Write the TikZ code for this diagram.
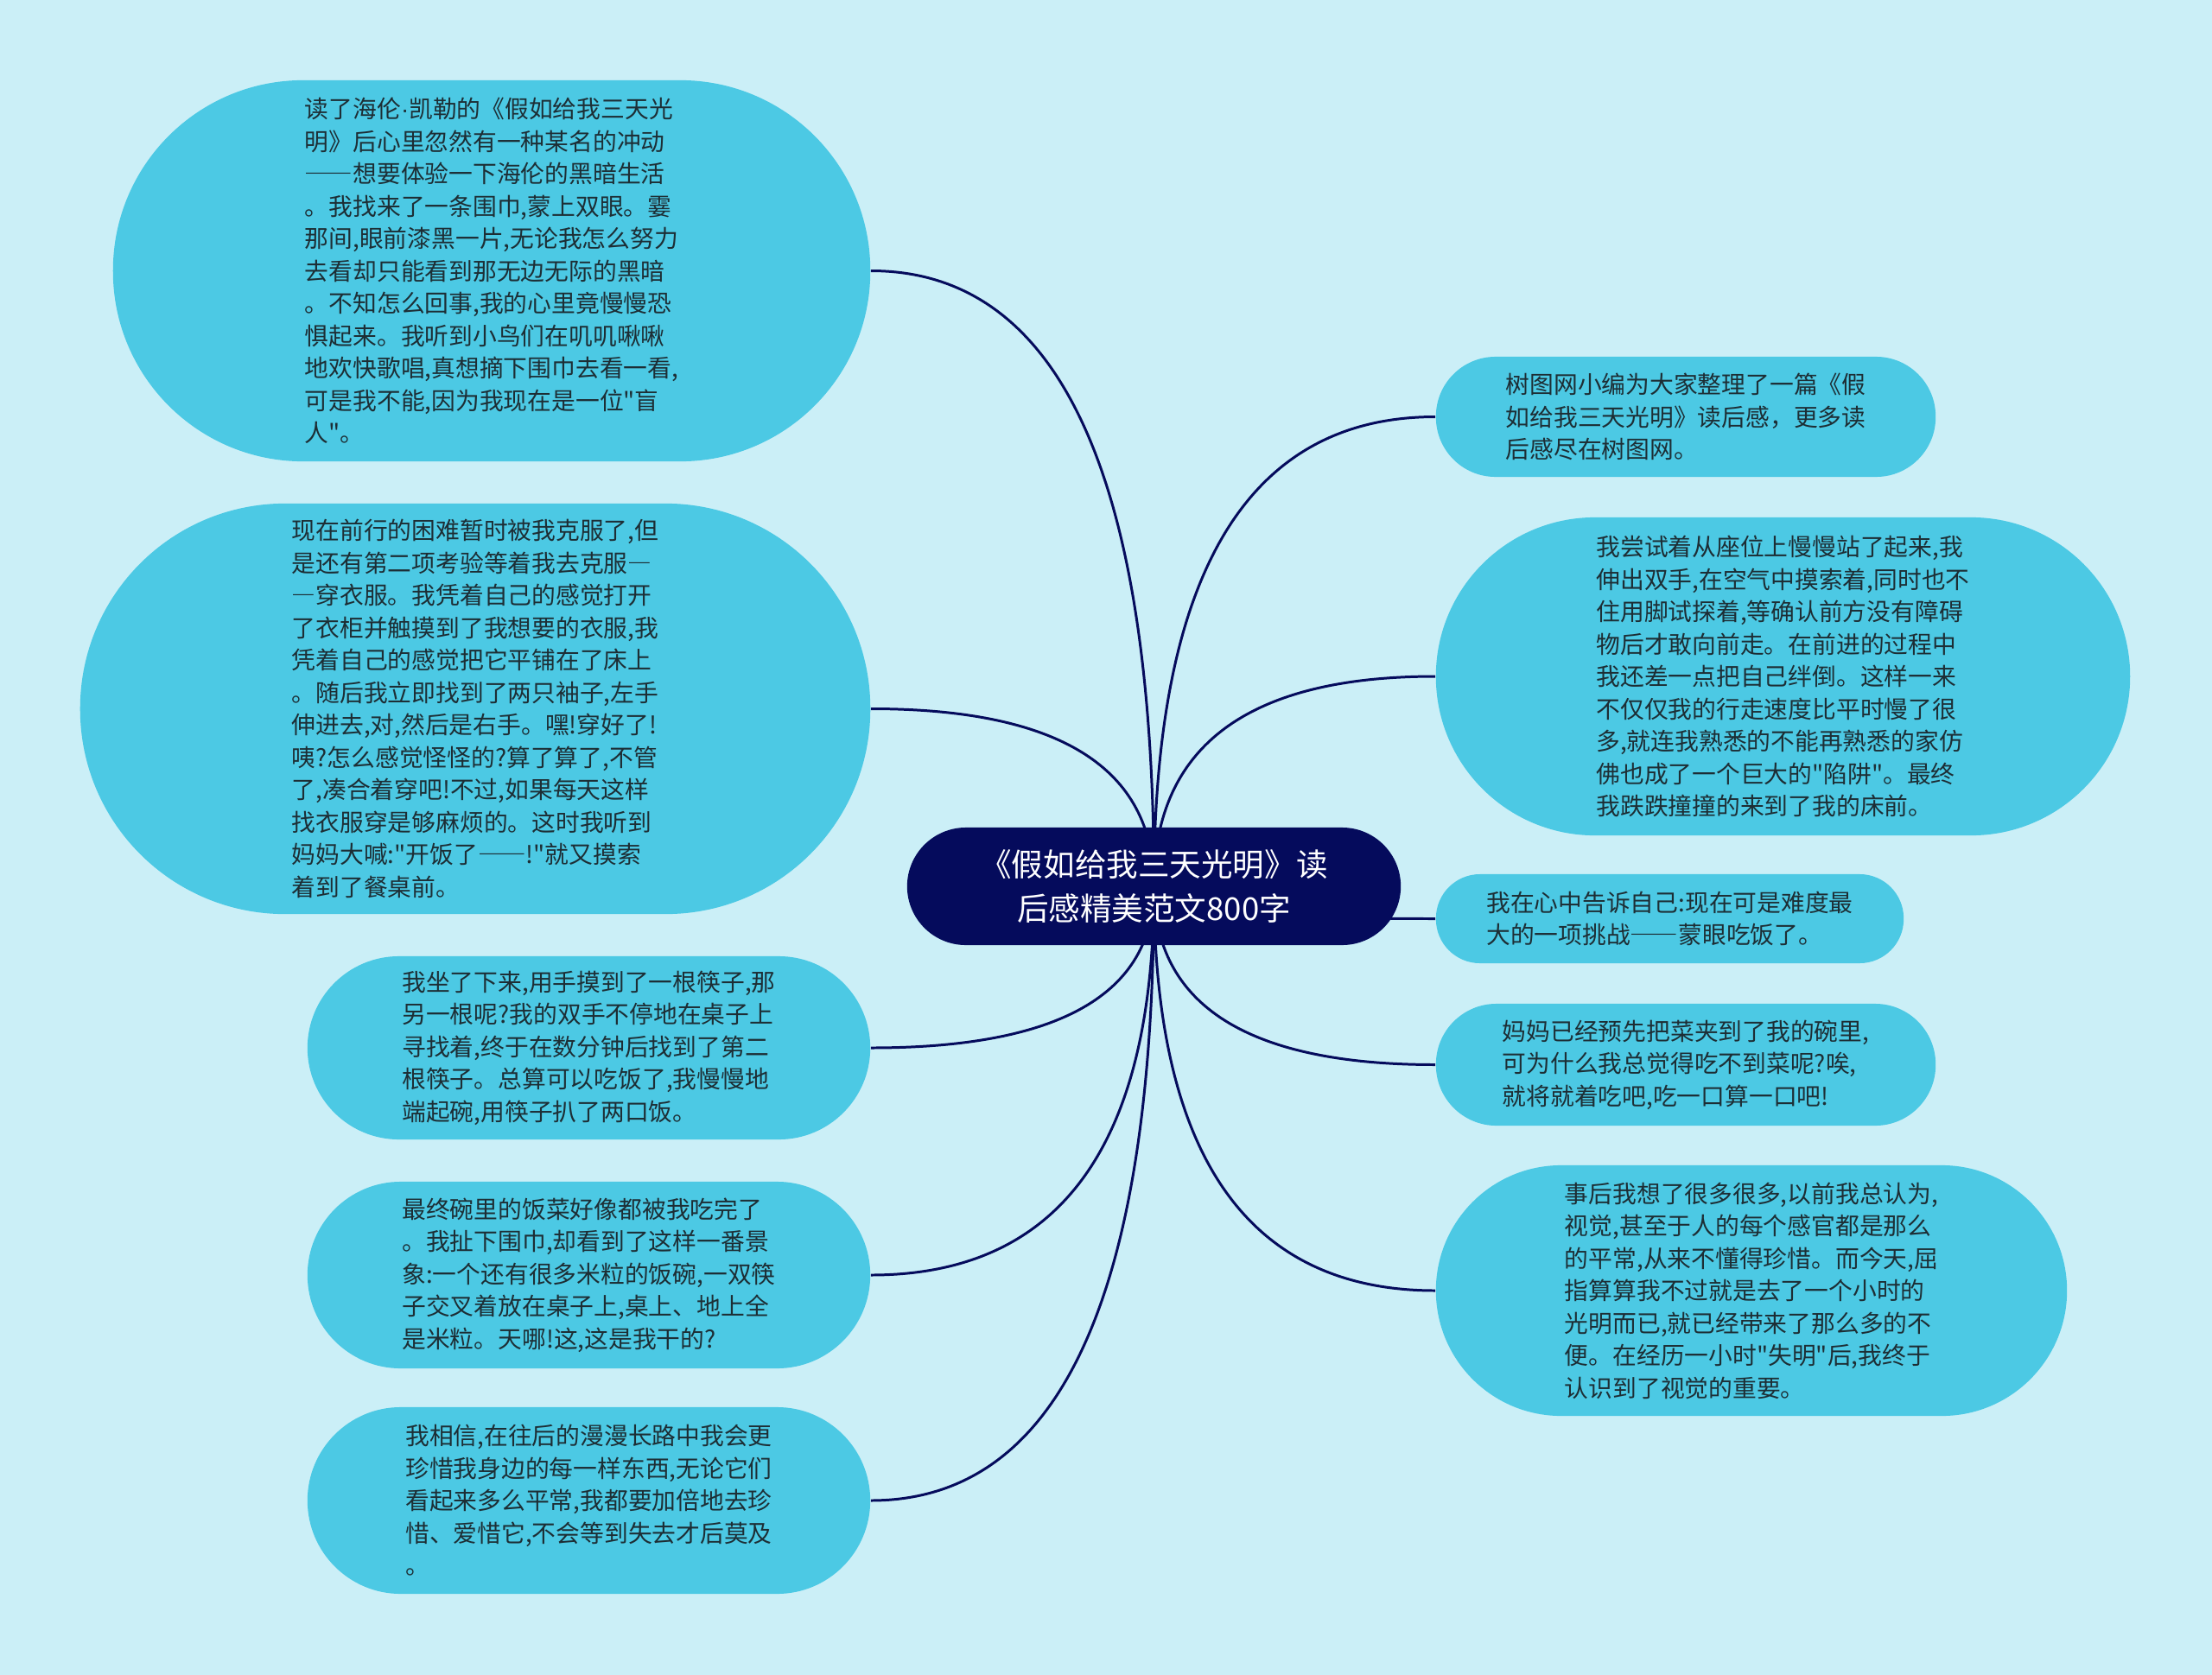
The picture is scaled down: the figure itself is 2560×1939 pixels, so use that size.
\documentclass[tikz,border=0pt]{standalone}
\usepackage{fontspec}
\newfontfamily\cjk{Noto Sans CJK SC}
\newfontfamily\latinf{Liberation Sans}
\newcommand\fw[1]{{\addfontfeature{RawFeature=+fwid}#1}}
\usetikzlibrary{calc}
\definecolor{bgc}{HTML}{CBEFF7}
\definecolor{boxc}{HTML}{4CC9E4}
\definecolor{navy}{HTML}{050B5C}
\definecolor{txtc}{HTML}{1D2E35}
\pgfdeclarelayer{backdrop}
\pgfdeclarelayer{lines}
\pgfsetlayers{backdrop,lines,main}
\tikzset{
  leaf/.style={fill=boxc, text=txtc, align=left, inner sep=0pt,
    font=\cjk\fontsize{7.9pt}{10.67pt}\selectfont},
  root/.style={fill=navy, text=white, align=center, inner sep=0pt,
    font=\cjk\fontsize{10.4pt}{14.4pt}\selectfont},
  link/.style={draw=navy, line width=0.85pt},
}
\newcommand\mmconn[2]{\draw[link] (#1) .. controls ($(#1)!0.667!(#1 |- #2)$) and ($(#2)!0.667!(#1 |- #2)$) .. (#2);}
\begin{document}
\begin{tikzpicture}[x=0.01cm,y=-0.01cm]
\begin{pgfonlayer}{backdrop}
\fill[bgc] (0,0) rectangle (2560,1939);
\end{pgfonlayer}
\useasboundingbox (0,0) rectangle (2560,1939);

\node[root, minimum width=5.71cm, minimum height=1.36cm, rounded corners=0.68cm] (c) at (1335.5,1026)
  {《假如给我三天光明》读\\后感精美范文800字};

\node[leaf, minimum width=8.76cm, minimum height=4.41cm, rounded corners=2.2cm] (n1) at (569,313.5)
  {读了海伦{\latinf ·}凯勒的《假如给我三天光\\明》后心里忽然有一种某名的冲动\\\fw{——}想要体验一下海伦的黑暗生活\\。我找来了一条围巾,蒙上双眼。霎\\那间,眼前漆黑一片,无论我怎么努力\\去看却只能看到那无边无际的黑暗\\。不知怎么回事,我的心里竟慢慢恐\\惧起来。我听到小鸟们在叽叽啾啾\\地欢快歌唱,真想摘下围巾去看一看,\\可是我不能,因为我现在是一位"盲\\人"。};

\node[leaf, minimum width=9.14cm, minimum height=4.75cm, rounded corners=2.37cm] (n2) at (550,820.5)
  {现在前行的困难暂时被我克服了,但\\是还有第二项考验等着我去克服\fw{—}\\\fw{—}穿衣服。我凭着自己的感觉打开\\了衣柜并触摸到了我想要的衣服,我\\凭着自己的感觉把它平铺在了床上\\。随后我立即找到了两只袖子,左手\\伸进去,对,然后是右手。嘿!穿好了!\\咦?怎么感觉怪怪的?算了算了,不管\\了,凑合着穿吧!不过,如果每天这样\\找衣服穿是够麻烦的。这时我听到\\妈妈大喊:"开饭了\fw{——}!"就又摸索\\着到了餐桌前。};

\node[leaf, minimum width=6.51cm, minimum height=2.12cm, rounded corners=1.06cm] (n3) at (681.5,1213)
  {我坐了下来,用手摸到了一根筷子,那\\另一根呢?我的双手不停地在桌子上\\寻找着,终于在数分钟后找到了第二\\根筷子。总算可以吃饭了,我慢慢地\\端起碗,用筷子扒了两口饭。};

\node[leaf, minimum width=6.51cm, minimum height=2.16cm, rounded corners=1.08cm] (n4) at (681.5,1476)
  {最终碗里的饭菜好像都被我吃完了\\。我扯下围巾,却看到了这样一番景\\象:一个还有很多米粒的饭碗,一双筷\\子交叉着放在桌子上,桌上、地上全\\是米粒。天哪!这,这是我干的?};

\node[leaf, minimum width=6.51cm, minimum height=2.16cm, rounded corners=1.08cm] (n5) at (681.5,1737)
  {我相信,在往后的漫漫长路中我会更\\珍惜我身边的每一样东西,无论它们\\看起来多么平常,我都要加倍地去珍\\惜、爱惜它,不会等到失去才后莫及\\。};

\node[leaf, minimum width=5.78cm, minimum height=1.39cm, rounded corners=0.69cm] (r1) at (1951,482.5)
  {树图网小编为大家整理了一篇《假\\如给我三天光明》读后感，更多读\\后感尽在树图网。};

\node[leaf, minimum width=8.03cm, minimum height=3.68cm, rounded corners=1.84cm] (r2) at (2063.5,783)
  {我尝试着从座位上慢慢站了起来,我\\伸出双手,在空气中摸索着,同时也不\\住用脚试探着,等确认前方没有障碍\\物后才敢向前走。在前进的过程中\\我还差一点把自己绊倒。这样一来\\不仅仅我的行走速度比平时慢了很\\多,就连我熟悉的不能再熟悉的家仿\\佛也成了一个巨大的"陷阱"。最终\\我跌跌撞撞的来到了我的床前。};

\node[leaf, minimum width=5.41cm, minimum height=1.03cm, rounded corners=0.51cm] (r3) at (1932.5,1063.5)
  {我在心中告诉自己:现在可是难度最\\大的一项挑战\fw{——}蒙眼吃饭了。};

\node[leaf, minimum width=5.78cm, minimum height=1.41cm, rounded corners=0.70cm] (r4) at (1951,1232.5)
  {妈妈已经预先把菜夹到了我的碗里,\\可为什么我总觉得吃不到菜呢?唉,\\就将就着吃吧,吃一口算一口吧!};

\node[leaf, minimum width=7.30cm, minimum height=2.90cm, rounded corners=1.45cm] (r5) at (2027,1494)
  {事后我想了很多很多,以前我总认为,\\视觉,甚至于人的每个感官都是那么\\的平常,从来不懂得珍惜。而今天,屈\\指算算我不过就是去了一个小时的\\光明而已,就已经带来了那么多的不\\便。在经历一小时"失明"后,我终于\\认识到了视觉的重要。};

\begin{pgfonlayer}{lines}
\mmconn{c.center}{n1.east}
\mmconn{c.center}{n2.east}
\mmconn{c.center}{n3.east}
\mmconn{c.center}{n4.east}
\mmconn{c.center}{n5.east}
\mmconn{c.center}{r1.west}
\mmconn{c.center}{r2.west}
\mmconn{c.center}{r3.west}
\mmconn{c.center}{r4.west}
\mmconn{c.center}{r5.west}
\end{pgfonlayer}
\end{tikzpicture}
\end{document}
